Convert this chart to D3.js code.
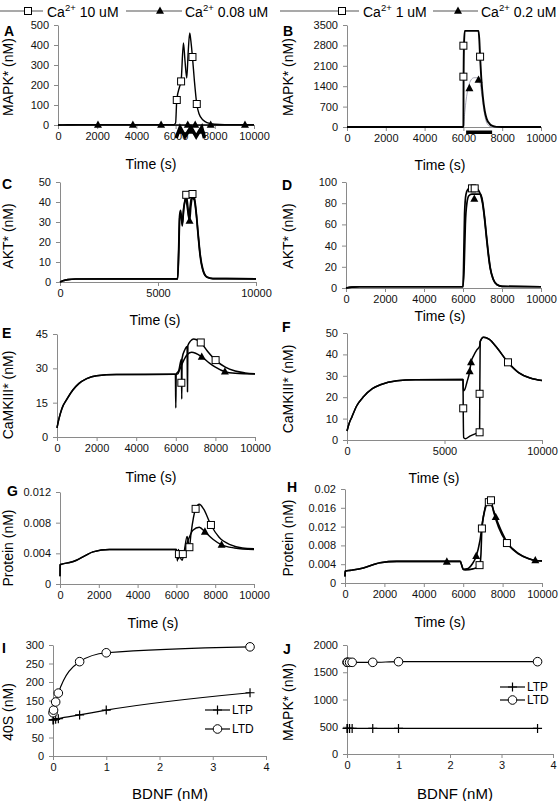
<!DOCTYPE html>
<html><head><meta charset="utf-8">
<script src="https://cdn.jsdelivr.net/npm/d3@7"></script>
<style>body{margin:0;background:#fff} svg{display:block;font-family:Arial,"Liberation Sans",sans-serif}</style>
</head><body><svg id="c" width="560" height="801"></svg>
<script>
// ---------- tick labels ----------
const timeTicks = [0,2000,4000,6000,8000,10000];
const timeTicksWide = [0,5000,10000];
const bdnfTicks = [0,1,2,3,4];
const A_yTicks = [0,100,200,300,400,500];
const B_yTicks = [0,700,1400,2100,2800,3500];
const C_yTicks = [0,10,20,30,40,50];
const D_yTicks = [0,20,40,60,80,100];
const E_yTicks = [0,15,30,45];
const F_yTicks = [0,10,20,30,40,50];
const G_yTicks = [0,0.004,0.008,0.012];
const H_yTicks = [0,0.004,0.008,0.012,0.016,0.02];
const I_yTicks = [0,50,100,150,200,250,300];
const J_yTicks = [0,500,1000,1500,2000];

// ---------- A: MAPK*, Ca 10 uM (squares) vs 0.08 uM (triangles) ----------
const A_ca10 = [[0,0],[500,1],[1000,2],[5900,2],[6000,10],[6060,125],[6200,190],[6280,218],[6400,410],[6480,320],[6570,235],[6640,360],[6720,460],[6780,420],[6860,340],[6960,220],[7080,105],[7200,55],[7400,25],[7600,12],[8000,4],[8500,2],[10000,2]];
const A_ca10_marks = [[6060,125],[6280,218],[6860,340],[7080,105]];
const A_ca008 = [[0,0],[10000,0]];
const A_ca008_marks = [[2040,0],[3820,0],[5260,0],[6620,0],[7000,0],[7790,0],[9540,0]];
const A_stim = [[6030,-65],[6230,-12],[6480,-58],[6780,-12],[7050,-58],[7330,-12],[7470,-65]];
const A_stim_marks = [[6230,-30],[6780,-30],[7330,-30]];

// ---------- B: MAPK*, Ca 1 uM (squares) vs 0.2 uM (triangles) ----------
const B_ca1 = [[0,0],[5990,0],[6000,60],[6010,1700],[6030,2800],[6070,3300],[6780,3300],[6820,3000],[6860,2413],[6920,1700],[7000,1050],[7100,550],[7200,280],[7350,110],[7500,35],[7700,5],[8000,0],[10000,0]];
const B_ca1_marks = [[6000,1727],[6000,2790],[6860,2413]];
const B_ca02 = [[0,0],[6000,0],[6070,500],[6140,925],[6250,1350],[6400,1620],[6550,1690],[6750,1690],[6850,1550],[6950,1100],[7050,600],[7150,250],[7300,50],[7450,0],[10000,0]];
const B_ca02_marks = [[6310,1327],[6780,1612]];
const B_stim = [[6140,-180],[7480,-180]];

// ---------- C: AKT* ----------
const C_ca10 = [[0,0],[150,0.6],[400,1.2],[800,1.5],[6000,1.6],[6050,15],[6100,33],[6150,35.8],[6200,32],[6240,28],[6300,36],[6380,41],[6440,43.6],[6520,38],[6580,32],[6620,36],[6700,42],[6760,44],[6860,42],[6950,35],[7050,24],[7150,14],[7300,6],[7500,2.5],[7800,1.7],[10000,1.6]];
const C_ca10_marks = [[6440,43.6],[6760,44]];
const C_ca008 = [[0,0],[150,0.6],[400,1.2],[800,1.5],[6000,1.6],[6060,15],[6110,32],[6170,34],[6240,29],[6320,37],[6420,42],[6500,37],[6610,30.5],[6680,38],[6750,42],[6850,41],[6950,34],[7050,23],[7150,13],[7300,5.5],[7500,2.4],[7800,1.7],[10000,1.6]];
const C_ca008_marks = [[6610,30.5]];

// ---------- D: AKT* ----------
const D_ca1 = [[0,0],[300,0.8],[700,1.2],[6000,1.2],[6030,20],[6080,70],[6150,88],[6250,93],[6350,94],[6700,94],[6800,92],[6900,88],[7000,80],[7100,66],[7200,48],[7300,31],[7400,18],[7550,8],[7750,3],[8000,1.5],[10000,1.2]];
const D_ca1_marks = [[6460,94],[6600,94]];
const D_ca02 = [[0,0],[300,0.8],[700,1.2],[6000,1.2],[6060,20],[6120,60],[6200,80],[6300,87],[6450,88.5],[6900,88.5],[7000,82],[7100,68],[7200,50],[7300,33],[7400,19],[7550,8.5],[7750,3],[8000,1.5],[10000,1.2]];
const D_ca02_marks = [[6580,84]];

// ---------- E: CaMKIII* ----------
const E_ca10 = [[0,4],[100,8],[250,12.5],[500,16.5],[800,20.5],[1100,23.3],[1500,25.5],[2000,26.8],[3000,27.3],[5980,27.4],[6000,12.7],[6020,27.4],[6150,29],[6280,34],[6300,16.6],[6320,34.5],[6450,38],[6570,39.5],[6590,19.8],[6610,40],[6750,42],[6900,42.8],[7050,42.5],[7260,41.3],[7600,37.5],[8010,33.6],[8500,30.5],[9000,28.8],[9500,28],[10000,27.6]];
const E_ca10_marks = [[6280,23.7],[7260,41.3],[8010,33.6]];
const E_ca008 = [[0,4],[100,8],[250,12.5],[500,16.5],[800,20.5],[1100,23.3],[1500,25.5],[2000,26.8],[3000,27.3],[5980,27.4],[6100,27.6],[6200,29.5],[6400,33.5],[6600,36.2],[6800,37],[7000,36.6],[7310,35],[7700,32.3],[8000,30.5],[8480,28.5],[9000,27.8],[10000,27.5]];
const E_ca008_marks = [[7310,35],[8480,28.5]];

// ---------- F: CaMKIII* ----------
const F_ca1 = [[0,4.2],[100,7.5],[256,10.9],[500,16],[855,20.3],[1300,24],[1710,25.8],[2560,27.7],[3500,28.2],[5950,28.3],[5960,14.8],[5980,1.1],[6070,0.6],[6300,1.8],[6600,3],[6800,3.6],[6810,21.6],[6830,46],[7000,48],[7300,47],[7700,43],[8256,36.3],[8800,31.5],[9400,29],[10000,27.8]];
const F_ca1_marks = [[5960,14.8],[6800,3.6],[6800,21.6],[8256,36.3]];
const F_ca02 = [[0,4.2],[100,7.5],[256,10.9],[500,16],[855,20.3],[1300,24],[1710,25.8],[2560,27.7],[3500,28.2],[5950,28.3],[5970,23],[6030,23.4],[6150,27],[6290,32],[6360,36.2],[6500,39.5],[6650,42],[6800,43.8],[6830,46],[7000,48],[7300,47],[7700,43],[8256,36.3],[8800,31.5],[9400,29],[10000,27.8]];
const F_ca02_marks = [[6290,32],[6360,36.2]];

// ---------- G: Protein ----------
const G_ca10 = [[0,0.001],[5,0.0025],[100,0.0026],[500,0.0028],[850,0.0031],[1300,0.0037],[1700,0.0042],[2550,0.0045],[6000,0.0045],[6050,0.003],[6100,0.0045],[6200,0.0035],[6300,0.0031],[6400,0.0042],[6550,0.0062],[6670,0.0048],[6750,0.0065],[6990,0.0098],[7180,0.0104],[7400,0.0098],[7780,0.0077],[8200,0.0061],[8800,0.0051],[9400,0.0047],[10000,0.0046]];
const G_ca10_marks = [[6130,0.0039],[6330,0.0039],[6670,0.0048],[6990,0.0098],[7780,0.0077]];
const G_ca008 = [[0,0.001],[5,0.0025],[100,0.0026],[500,0.0028],[850,0.0031],[1300,0.0037],[1700,0.0042],[2550,0.0045],[6000,0.0045],[6100,0.0033],[6200,0.004],[6350,0.0038],[6500,0.005],[6650,0.006],[6850,0.007],[7180,0.0074],[7470,0.0068],[7900,0.0058],[8330,0.0051],[9000,0.0047],[10000,0.0045]];
const G_ca008_marks = [[7470,0.0068],[8330,0.0051]];

// ---------- H: Protein ----------
const H_ca1 = [[0,0.0014],[5,0.0025],[300,0.0027],[930,0.0032],[1780,0.0043],[2630,0.0046],[5850,0.0046],[5930,0.0037],[6000,0.0029],[6100,0.0028],[6500,0.003],[6830,0.0036],[6900,0.006],[6950,0.0116],[7100,0.0155],[7290,0.0174],[7400,0.0176],[7540,0.0152],[7800,0.0118],[8220,0.0085],[8800,0.0062],[9300,0.0052],[9660,0.0048],[10000,0.0047]];
const H_ca1_marks = [[6830,0.0038],[6950,0.0116],[7300,0.0172],[7410,0.0176],[8220,0.0085]];
const H_ca02 = [[0,0.0014],[5,0.0025],[300,0.0027],[930,0.0032],[1780,0.0043],[2630,0.0046],[5850,0.0046],[5930,0.0037],[6000,0.0029],[6200,0.003],[6450,0.004],[6660,0.0057],[6850,0.009],[7000,0.0135],[7200,0.017],[7400,0.0168],[7650,0.014],[8000,0.0105],[8220,0.0087],[8800,0.0063],[9300,0.0052],[9660,0.0048],[10000,0.0047]];
const H_ca02_marks = [[5170,0.0045],[6660,0.0057],[7650,0.014],[9660,0.0048]];

// ---------- I / J: BDNF dose response ----------
const bdnf = [0,0.01,0.05,0.1,0.5,1,3.7];
const I_LTP = [97,98,99,101,111,124,171];
const I_LTD = [117,124,146,170,255,279,295];
const J_LTP = [470,470,470,470,470,470,470];
const J_LTD = [1682,1682,1682,1682,1682,1694,1694];

// ---------- drawing ----------
const svg = d3.select('#c');
const FONT = 'Arial, "Liberation Sans", sans-serif';
const pair = (xs, ys) => xs.map((v,i)=>[v, ys[i]]);

function marker(g, type, cx, cy){
  if(type==='square'){
    g.append('rect').attr('x',cx-3.5).attr('y',cy-3.5).attr('width',7).attr('height',7)
      .attr('fill','#fff').attr('stroke','#000').attr('stroke-width',1);
  } else if(type==='tri'){
    g.append('path').attr('d',`M${cx},${cy-4.5}L${cx+4},${cy+2.8}L${cx-4},${cy+2.8}Z`).attr('fill','#000');
  } else if(type==='circle'){
    g.append('circle').attr('cx',cx).attr('cy',cy).attr('r',4.3).attr('fill','#fff').attr('stroke','#000').attr('stroke-width',1);
  } else if(type==='plus'){
    g.append('path').attr('d',`M${cx-4.5},${cy}H${cx+4.5}M${cx},${cy-4.5}V${cy+4.5}`).attr('stroke','#000').attr('stroke-width',1.2);
  }
}

function drawPanel(p){
  const g = svg.append('g');
  const x = d3.scaleLinear().domain(p.xd).range([p.x0,p.x1]);
  const y = d3.scaleLinear().domain(p.yd).range([p.yb,p.yt]);
  const ax = g.append('g').attr('transform',`translate(0,${p.yb})`)
    .call(d3.axisBottom(x).tickValues(p.xticks).tickSize(4).tickSizeOuter(0).tickPadding(3).tickFormat(d=>String(d)));
  const ay = g.append('g').attr('transform',`translate(${p.x0},0)`)
    .call(d3.axisLeft(y).tickValues(p.yticks).tickSize(4).tickSizeOuter(0).tickPadding(5).tickFormat(d=>String(d)));
  [ax,ay].forEach(a=>{
    a.attr('font-family',FONT).attr('font-size',11);
    a.selectAll('.domain, .tick line').attr('stroke','#8a8a8a');
    a.selectAll('text').attr('fill','#111');
  });
  const line = d3.line().x(d=>x(d[0])).y(d=>y(d[1])).curve(d3.curveMonotoneX);
  (p.extra||[]).forEach(e=>{
    g.append('path').attr('d', d3.line().x(d=>x(d[0])).y(d=>y(d[1]))(e.data))
      .attr('fill','none').attr('stroke','#000').attr('stroke-width',e.w).attr('stroke-linejoin','miter');
    (e.marks||[]).forEach(m=>marker(g,'tri',x(m[0]),y(m[1])));
  });
  p.series.forEach(s=>{
    g.append('path').datum(s.data).attr('d',line).attr('fill','none')
      .attr('stroke',s.color||'#000').attr('stroke-width',s.w||1.5).attr('stroke-linejoin','round');
  });
  p.series.forEach(s=>{
    (s.marks||[]).forEach(m=>marker(g, s.marker, x(m[0]), y(m[1])));
  });
  g.append('text').attr('x',p.lx).attr('y',p.ly).text(p.letter)
    .attr('font-family',FONT).attr('font-weight','bold').attr('font-size',14);
  g.append('text').attr('transform',`translate(${p.ytx},${p.yty}) rotate(-90)`).attr('text-anchor','middle')
    .attr('font-family',FONT).attr('font-size',14).text(p.ytitle);
  g.append('text').attr('x',p.xtx).attr('y',p.xty).attr('text-anchor','middle')
    .attr('font-family',FONT).attr('font-size',p.xtsize||14).text(p.xtitle);
  if(p.legend){
    p.legend.forEach(l=>{
      g.append('line').attr('x1',l.x).attr('x2',l.x+25).attr('y1',l.y).attr('y2',l.y).attr('stroke','#000').attr('stroke-width',1.2);
      marker(g, l.marker, l.x+12.5, l.y);
      g.append('text').attr('x',l.x+27).attr('y',l.y+4.3).attr('font-family',FONT).attr('font-size',12).text(l.label);
    });
  }
}

const T = 'Time (s)';
const panels = [
 {letter:'A',lx:4,ly:36,x0:58,x1:254,yt:25,yb:125,xd:[0,10000],yd:[0,500],xticks:timeTicks,yticks:A_yTicks,
  ytitle:'MAPK* (nM)',ytx:13,yty:77,xtitle:T,xtx:151,xty:169,
  extra:[{data:A_stim,w:3.5,marks:A_stim_marks}],
  series:[{data:A_ca10,marks:A_ca10_marks,marker:'square',w:1.4},{data:A_ca008,marks:A_ca008_marks,marker:'tri',w:1.4}]},
 {letter:'B',lx:283,ly:36,x0:347,x1:541,yt:25,yb:127,xd:[0,10000],yd:[0,3500],xticks:timeTicks,yticks:B_yTicks,
  ytitle:'MAPK* (nM)',ytx:293,yty:77,xtitle:T,xtx:440,xty:170,
  extra:[{data:B_stim,w:3.5}],
  series:[{data:B_ca02,marks:B_ca02_marks,marker:'tri',w:1,color:'#a4a4b4'},{data:B_ca1,marks:B_ca1_marks,marker:'square',w:1.9}]},
 {letter:'C',lx:2,ly:189,x0:60,x1:256,yt:182,yb:282,xd:[0,10000],yd:[0,50],xticks:timeTicksWide,yticks:C_yTicks,
  ytitle:'AKT* (nM)',ytx:13,yty:236,xtitle:T,xtx:155,xty:325,
  series:[{data:C_ca008,marks:C_ca008_marks,marker:'tri',w:1.7},{data:C_ca10,marks:C_ca10_marks,marker:'square',w:1.7}]},
 {letter:'D',lx:282,ly:190,x0:346,x1:541,yt:182,yb:288,xd:[0,10000],yd:[0,100],xticks:timeTicks,yticks:D_yTicks,
  ytitle:'AKT* (nM)',ytx:293,yty:236,xtitle:T,xtx:440,xty:321,
  series:[{data:D_ca02,marks:D_ca02_marks,marker:'tri',w:1.7},{data:D_ca1,marks:D_ca1_marks,marker:'square',w:1.7}]},
 {letter:'E',lx:2,ly:338,x0:57,x1:255,yt:334,yb:437,xd:[0,10000],yd:[0,45],xticks:timeTicks,yticks:E_yTicks,
  ytitle:'CaMKIII* (nM)',ytx:13,yty:395,xtitle:T,xtx:151,xty:482,
  series:[{data:E_ca008,marks:E_ca008_marks,marker:'tri',w:1.5},{data:E_ca10,marks:E_ca10_marks,marker:'square',w:1.5}]},
 {letter:'F',lx:282,ly:332,x0:347,x1:542,yt:333,yb:440,xd:[0,10000],yd:[0,50],xticks:timeTicksWide,yticks:F_yTicks,
  ytitle:'CaMKIII* (nM)',ytx:293,yty:389,xtitle:T,xtx:434,xty:483,
  series:[{data:F_ca02,marks:F_ca02_marks,marker:'tri',w:1.5},{data:F_ca1,marks:F_ca1_marks,marker:'square',w:1.5}]},
 {letter:'G',lx:7,ly:496,x0:60,x1:254,yt:492,yb:584,xd:[0,10000],yd:[0,0.012],xticks:timeTicks,yticks:G_yTicks,
  ytitle:'Protein (nM)',ytx:13,yty:548,xtitle:T,xtx:153,xty:628,
  series:[{data:G_ca008,marks:G_ca008_marks,marker:'tri',w:1.4},{data:G_ca10,marks:G_ca10_marks,marker:'square',w:1.4}]},
 {letter:'H',lx:287,ly:492,x0:345,x1:542,yt:489,yb:583,xd:[0,10000],yd:[0,0.02],xticks:timeTicks,yticks:H_yTicks,
  ytitle:'Protein (nM)',ytx:293,yty:538,xtitle:T,xtx:440,xty:627,
  series:[{data:H_ca02,marks:H_ca02_marks,marker:'tri',w:1.6},{data:H_ca1,marks:H_ca1_marks,marker:'square',w:1.6}]},
 {letter:'I',lx:2,ly:653,x0:53,x1:266,yt:645,yb:756,xd:[0,4],yd:[0,300],xticks:bdnfTicks,yticks:I_yTicks,
  ytitle:'40S (nM)',ytx:13,yty:712,xtitle:'BDNF (nM)',xtx:170,xty:799,xtsize:15,
  legend:[{x:205,y:710,marker:'plus',label:'LTP'},{x:205,y:729,marker:'circle',label:'LTD'}],
  series:[{data:pair(bdnf,I_LTP),marks:pair(bdnf,I_LTP),marker:'plus',w:1.2},{data:pair(bdnf,I_LTD),marks:pair(bdnf,I_LTD),marker:'circle',w:1.2}]},
 {letter:'J',lx:283,ly:654,x0:347,x1:553,yt:645,yb:754,xd:[0,4],yd:[0,2000],xticks:bdnfTicks,yticks:J_yTicks,
  ytitle:'MAPK* (nM)',ytx:293,yty:702,xtitle:'BDNF (nM)',xtx:455,xty:799,xtsize:15,
  legend:[{x:500,y:687,marker:'plus',label:'LTP'},{x:500,y:700,marker:'circle',label:'LTD'}],
  series:[{data:pair(bdnf,J_LTP),marks:pair(bdnf,J_LTP),marker:'plus',w:1.2},{data:pair(bdnf,J_LTD),marks:pair(bdnf,J_LTD),marker:'circle',w:1.2}]}
];
panels.forEach(drawPanel);

// ---------- top legends ----------
function caLegend(x1, x2, mx, type, tx, conc){
  const g = svg.append('g');
  g.append('line').attr('x1',x1).attr('x2',x2).attr('y1',11).attr('y2',11).attr('stroke','#555').attr('stroke-width',1.1);
  marker(g, type, mx, 11);
  const t = g.append('text').attr('x',tx).attr('y',17).attr('font-family',FONT).attr('font-size',14);
  t.append('tspan').text('Ca');
  t.append('tspan').attr('font-size',9.5).attr('dy',-6).text('2+');
  t.append('tspan').attr('dy',6).text(' ' + conc);
}
caLegend(0,43,28,'square',47,'10 uM');
caLegend(126,182,160,'tri',185,'0.08 uM');
caLegend(280,359,342,'square',363,'1 uM');
caLegend(433,478,458,'tri',481,'0.2 uM');
</script></body></html>
